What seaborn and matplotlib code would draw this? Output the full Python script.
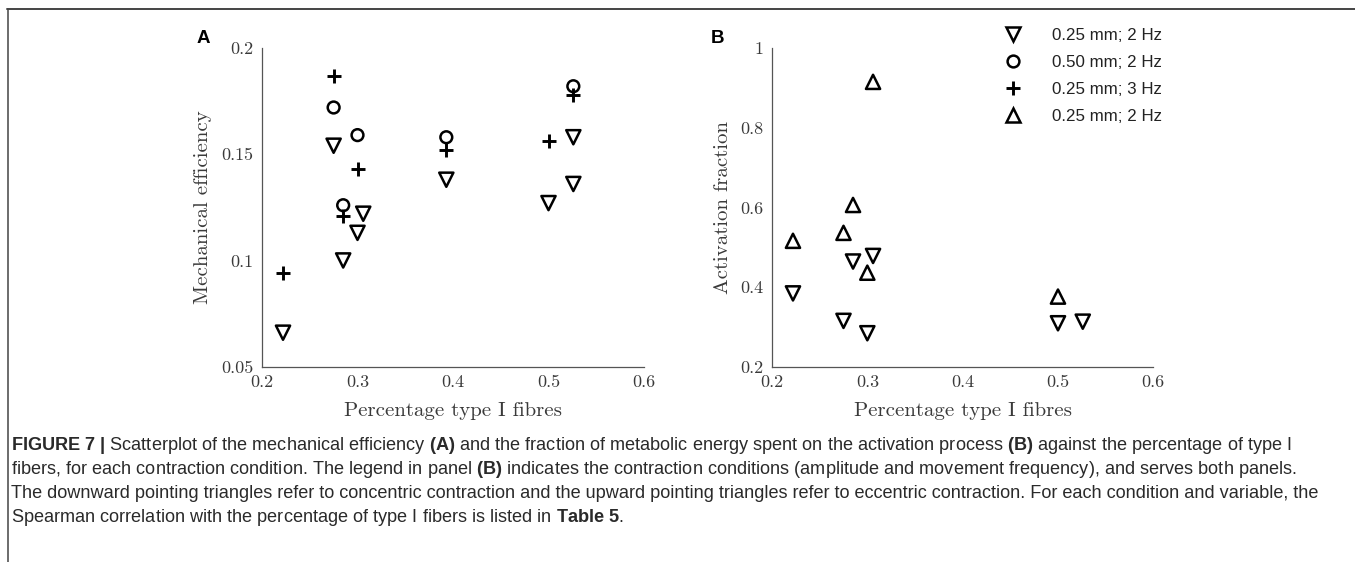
import numpy as np
import pandas as pd
import seaborn as sns
import matplotlib
matplotlib.use("Agg")
import matplotlib.pyplot as plt
from matplotlib.lines import Line2D

# ---------------- data ----------------
# Panel A: mechanical efficiency
a_conc_x = [0.222, 0.275, 0.285, 0.300, 0.306, 0.393, 0.500, 0.526, 0.526]
a_conc_y = [0.066, 0.154, 0.100, 0.113, 0.122, 0.138, 0.127, 0.158, 0.136]
a_amp_x = [0.275, 0.285, 0.300, 0.393, 0.526]
a_amp_y = [0.172, 0.126, 0.159, 0.158, 0.182]
a_freq_x = [0.222, 0.275, 0.285, 0.300, 0.393, 0.500, 0.526]
a_freq_y = [0.094, 0.187, 0.121, 0.143, 0.152, 0.156, 0.178]
# Panel B: activation fraction
b_conc_x = [0.222, 0.275, 0.285, 0.300, 0.306, 0.500, 0.526]
b_conc_y = [0.384, 0.315, 0.464, 0.284, 0.478, 0.309, 0.313]
b_ecc_x = [0.222, 0.275, 0.285, 0.300, 0.306, 0.500]
b_ecc_y = [0.516, 0.536, 0.606, 0.436, 0.915, 0.376]

legend_labels = ["0.25 mm; 2 Hz", "0.50 mm; 2 Hz", "0.25 mm; 3 Hz", "0.25 mm; 2 Hz"]
x_ticks = [0.2, 0.3, 0.4, 0.5, 0.6]
x_ticklabels = ["0.2", "0.3", "0.4", "0.5", "0.6"]
a_yticks = [0.05, 0.1, 0.15, 0.2]
a_yticklabels = ["0.05", "0.1", "0.15", "0.2"]
b_yticks = [0.2, 0.4, 0.6, 0.8, 1.0]
b_yticklabels = ["0.2", "0.4", "0.6", "0.8", "1"]

caption_lines = [
    r"$\mathbf{FIGURE\ 7\ |}$ Scatterplot of the mechanical efficiency $\mathbf{(A)}$ and the fraction of metabolic energy spent on the activation process $\mathbf{(B)}$ against the percentage of type I",
    r"fibers, for each contraction condition. The legend in panel $\mathbf{(B)}$ indicates the contraction conditions (amplitude and movement frequency), and serves both panels.",
    r"The downward pointing triangles refer to concentric contraction and the upward pointing triangles refer to eccentric contraction. For each condition and variable, the",
    r"Spearman correlation with the percentage of type I fibers is listed in $\mathbf{Table\ 5}$.",
]

# ---------------- style ----------------
sns.set_theme(style="white")
plt.rcParams["font.family"] = ["Liberation Sans", "DejaVu Sans"]
plt.rcParams["mathtext.fontset"] = "custom"
plt.rcParams["mathtext.rm"] = "Liberation Sans"
plt.rcParams["mathtext.bf"] = "Liberation Sans:bold"
plt.rcParams["mathtext.it"] = "Liberation Sans:italic"

W, H = 1355, 562
fig = plt.figure(figsize=(W / 100, H / 100), dpi=100)
fig.patch.set_facecolor("white")

def fx(px):
    return px / W

def fy(py):
    return 1 - py / H

axA = fig.add_axes([fx(262), fy(366.7), fx(644) - fx(262), fy(48) - fy(366.7)])
axB = fig.add_axes([fx(772), fy(366.7), fx(1153.3) - fx(772), fy(48) - fy(366.7)])

serif = "cmr10"
spine_c = "#555555"
tick_c = "#3a3a3a"
tri_s = 104
circ_s = 72
plus_s = 95
mew = 1.8

def style_axes(ax, yticks, yticklabels, ylim, ylabel, ylabelpad):
    ax.set_xlim(0.2, 0.6)
    ax.set_ylim(*ylim)
    ax.set_xticks(x_ticks)
    ax.set_xticklabels(x_ticklabels, fontfamily=serif, fontsize=13, color=tick_c)
    ax.set_yticks(yticks)
    ax.set_yticklabels(yticklabels, fontfamily=serif, fontsize=13, color=tick_c)
    ax.tick_params(direction="in", length=3, width=0.8, color=spine_c, pad=6)
    for s in ["top", "right"]:
        ax.spines[s].set_visible(False)
    for s in ["left", "bottom"]:
        ax.spines[s].set_color(spine_c)
        ax.spines[s].set_linewidth(0.9)
    ax.set_xlabel("Percentage type I fibres", fontfamily=serif, fontsize=15, color=tick_c, labelpad=8.5)
    ax.set_ylabel(ylabel, fontfamily=serif, fontsize=15, color=tick_c, labelpad=ylabelpad)
    ax.set_facecolor("none")
    ax.grid(False)

# Panel A
sns.scatterplot(x=a_conc_x, y=a_conc_y, ax=axA, marker="v", s=tri_s,
                facecolor="none", edgecolor="black", linewidth=mew, zorder=3)
sns.scatterplot(x=a_amp_x, y=a_amp_y, ax=axA, marker="o", s=circ_s,
                facecolor="none", edgecolor="black", linewidth=mew, zorder=3)
sns.scatterplot(x=a_freq_x, y=a_freq_y, ax=axA, marker="+", s=plus_s,
                color="black", linewidth=2.1, zorder=3)
style_axes(axA, a_yticks, a_yticklabels, (0.05, 0.2), "Mechanical efficiency", 7)

# Panel B
sns.scatterplot(x=b_conc_x, y=b_conc_y, ax=axB, marker="v", s=tri_s,
                facecolor="none", edgecolor="black", linewidth=mew, zorder=3)
sns.scatterplot(x=b_ecc_x, y=b_ecc_y, ax=axB, marker="^", s=tri_s,
                facecolor="none", edgecolor="black", linewidth=mew, zorder=3)
style_axes(axB, b_yticks, b_yticklabels, (0.2, 1.0), "Activation fraction", 6)

# Legend (serves both panels)
handles = [
    Line2D([], [], ls="none", marker="v", ms=np.sqrt(tri_s), mfc="none", mec="black", mew=mew),
    Line2D([], [], ls="none", marker="o", ms=np.sqrt(circ_s), mfc="none", mec="black", mew=mew),
    Line2D([], [], ls="none", marker="+", ms=np.sqrt(plus_s), color="black", mew=2.1),
    Line2D([], [], ls="none", marker="^", ms=np.sqrt(tri_s), mfc="none", mec="black", mew=mew),
]
leg = axB.legend(handles, legend_labels, loc="upper left",
                 bbox_to_anchor=(fx(1004.5), fy(28)), bbox_transform=fig.transFigure,
                 frameon=False, fontsize=12.2, handlelength=1.0, handletextpad=1.8,
                 labelspacing=0.7, borderpad=0, borderaxespad=0)
for t in leg.get_texts():
    t.set_color("#222222")

# Panel letters
fig.text(fx(203), fy(38.5), "A", fontsize=13.5, fontweight="bold", ha="center", va="center", color="black")
fig.text(fx(717), fy(38.5), "B", fontsize=13.5, fontweight="bold", ha="center", va="center", color="black")

# Frame lines
fig.add_artist(Line2D([fx(7.5), 1.0], [fy(8.5), fy(8.5)], color="#444444", lw=1.4))
fig.add_artist(Line2D([fx(8), fx(8)], [fy(8.5), 0.0], color="#444444", lw=1.1))

# Caption
cap_y = [446, 470, 494, 518]
for line, yy in zip(caption_lines, cap_y):
    fig.text(fx(11), fy(yy), line, fontsize=13.1, ha="left", va="center", color="#2a2a2a")

fig.savefig("out.png", dpi=100, facecolor="white")
